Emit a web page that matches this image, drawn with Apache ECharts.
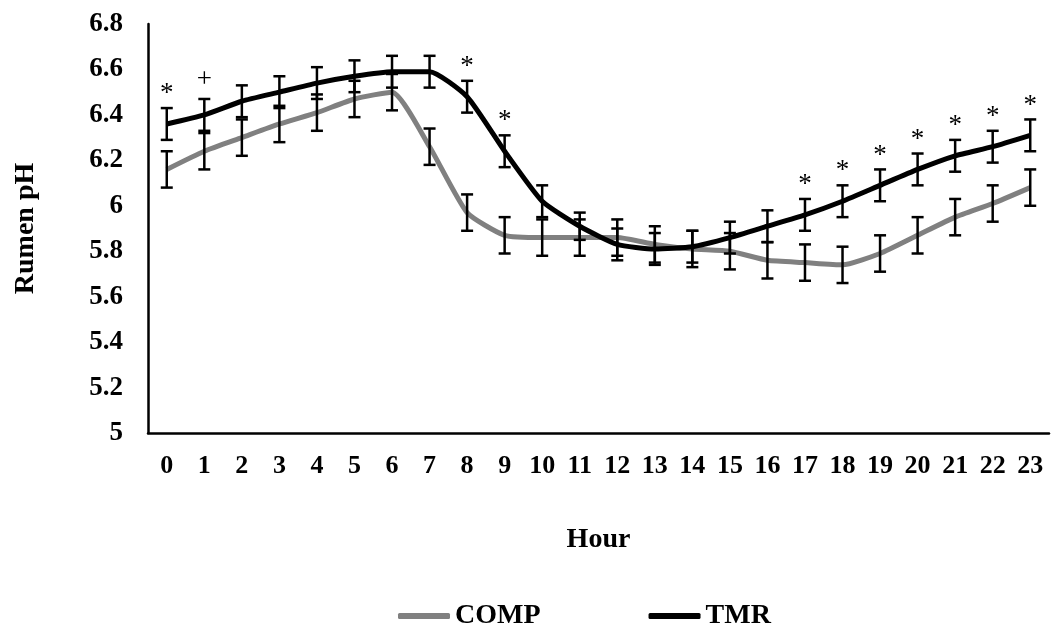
<!DOCTYPE html>
<html>
<head>
<meta charset="utf-8">
<script src="https://cdn.jsdelivr.net/npm/echarts@6/dist/echarts.min.js"></script>
<style>
  html, body { margin: 0; padding: 0; background: #fff; }
  #chart { width: 1051px; height: 628px; }
</style>
</head>
<body>
<div id="chart"></div>
<script>
// hours on the x axis
var hours = ['0','1','2','3','4','5','6','7','8','9','10','11','12','13','14','15','16','17','18','19','20','21','22','23']

// rumen pH means
var tmr  = [6.36, 6.40, 6.46, 6.50, 6.54, 6.57, 6.59, 6.59, 6.48, 6.24, 6.02, 5.91, 5.83, 5.81, 5.82, 5.86, 5.91, 5.96, 6.02, 6.09, 6.16, 6.22, 6.26, 6.31]
var comp = [6.16, 6.24, 6.30, 6.36, 6.41, 6.47, 6.50, 6.26, 5.97, 5.87, 5.86, 5.86, 5.86, 5.83, 5.81, 5.80, 5.76, 5.75, 5.74, 5.79, 5.87, 5.95, 6.01, 6.08]

// standard errors (error bar half length)
var tmrSe  = [0.07, 0.07, 0.07, 0.07, 0.07, 0.07, 0.07, 0.07, 0.07, 0.07, 0.07, 0.06, 0.07, 0.07, 0.07, 0.07, 0.07, 0.07, 0.07, 0.07, 0.07, 0.07, 0.07, 0.07]
var compSe = [0.08, 0.08, 0.08, 0.08, 0.08, 0.08, 0.08, 0.08, 0.08, 0.08, 0.08, 0.08, 0.08, 0.08, 0.08, 0.08, 0.08, 0.08, 0.08, 0.08, 0.08, 0.08, 0.08, 0.08]

// significance marks over the TMR bars
var marks = ['*', '+', '', '', '', '', '', '', '*', '*', '', '', '', '', '', '', '', '*', '*', '*', '*', '*', '*', '*']

// y axis
var yMin = 5, yMax = 6.8, yStep = 0.2

var FONT = "'Liberation Serif', 'Times New Roman', serif"

function barData (vals, se) {
  return vals.map(function (v, i) { return [i, v, se[i]] })
}

// draws one error bar (and a mark above it if there is one)
function errorBar (withMarks) {
  return function (params, api) {
    var i = api.value(0)
    var v = api.value(1)
    var e = api.value(2)
    var top = api.coord([i, v + e])
    var bot = api.coord([i, v - e])
    var half = 6
    var st = { stroke: '#000', lineWidth: 2.5 }
    var kids = [
      { type: 'line', shape: { x1: top[0], y1: top[1], x2: bot[0], y2: bot[1] }, style: st },
      { type: 'line', shape: { x1: top[0] - half, y1: top[1], x2: top[0] + half, y2: top[1] }, style: st },
      { type: 'line', shape: { x1: bot[0] - half, y1: bot[1], x2: bot[0] + half, y2: bot[1] }, style: st }
    ]
    var m = withMarks ? marks[params.dataIndex] : ''
    if (m) {
      var off = m === '+' ? 19 : 14
      kids.push({
        type: 'text',
        style: {
          text: m, x: top[0], y: top[1] - off,
          align: 'center', verticalAlign: 'middle',
          fill: '#000', font: 'normal 27px ' + FONT
        }
      })
    }
    return { type: 'group', children: kids }
  }
}

var chart = echarts.init(document.getElementById('chart'), null, { renderer: 'canvas' })

chart.setOption({
  animation: false,
  backgroundColor: '#fff',
  grid: { left: 148, right: 2, top: 24, bottom: 195 },
  legend: {
    data: ['COMP', 'TMR'],
    left: 393,
    top: 597,
    icon: 'roundRect',
    itemWidth: 52,
    itemHeight: 6,
    itemGap: 108,
    textStyle: { fontFamily: FONT, fontWeight: 'bold', fontSize: 28, color: '#000' }
  },
  xAxis: {
    type: 'category',
    data: hours,
    name: 'Hour',
    nameLocation: 'middle',
    nameGap: 93,
    nameTextStyle: { fontFamily: FONT, fontWeight: 'bold', fontSize: 28, color: '#000' },
    axisLine: { lineStyle: { color: '#000', width: 2.5 } },
    axisTick: { show: false },
    axisLabel: { interval: 0, margin: 20, fontFamily: FONT, fontWeight: 'bold', fontSize: 26, color: '#000' },
    splitLine: { show: false }
  },
  yAxis: {
    type: 'value',
    min: yMin,
    max: yMax,
    interval: yStep,
    name: 'Rumen pH',
    nameLocation: 'middle',
    nameGap: 108,
    nameTextStyle: { fontFamily: FONT, fontWeight: 'bold', fontSize: 28, color: '#000' },
    axisLine: { show: true, lineStyle: { color: '#000', width: 2.5 } },
    axisTick: { show: false },
    axisLabel: { margin: 25, fontFamily: FONT, fontWeight: 'bold', fontSize: 27, color: '#000' },
    splitLine: { show: false }
  },
  series: [
    {
      name: 'COMP', type: 'line', data: comp, smooth: 0.18,
      symbol: 'none', z: 2,
      lineStyle: { color: '#808080', width: 5 },
      itemStyle: { color: '#808080' }
    },
    {
      name: 'TMR', type: 'line', data: tmr, smooth: 0.18,
      symbol: 'none', z: 3,
      lineStyle: { color: '#000', width: 5 },
      itemStyle: { color: '#000' }
    },
    {
      name: 'COMP SE', type: 'custom', z: 5,
      renderItem: errorBar(false),
      data: barData(comp, compSe)
    },
    {
      name: 'TMR SE', type: 'custom', z: 6,
      renderItem: errorBar(true),
      data: barData(tmr, tmrSe)
    }
  ]
})
</script>
</body>
</html>
